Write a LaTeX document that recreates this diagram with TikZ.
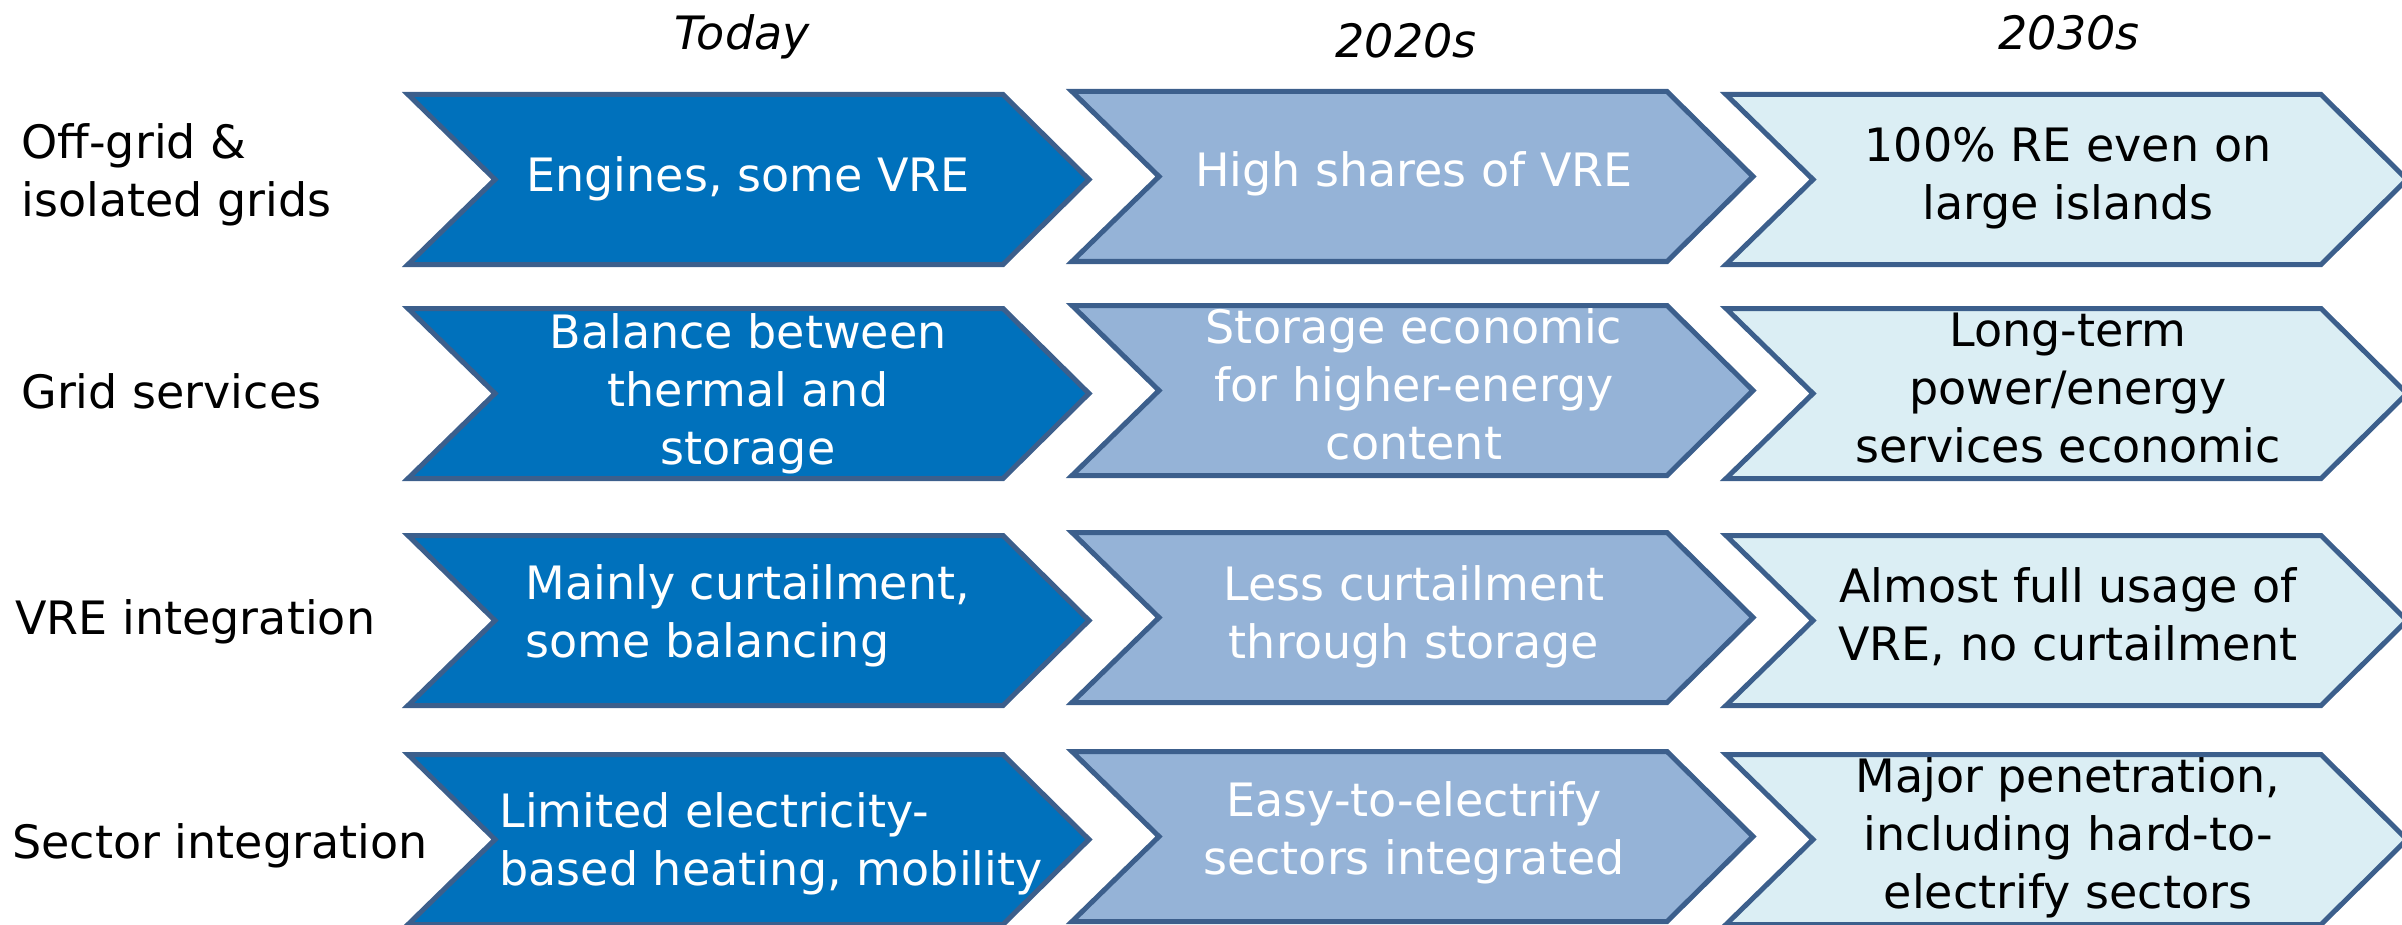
\documentclass[tikz,border=0pt]{standalone}
\usepackage{fontspec}
\setmainfont{DejaVu Sans}
\definecolor{cdark}{RGB}{0,113,188}
\definecolor{cmid}{RGB}{149,179,215}
\definecolor{clight}{RGB}{219,238,244}
\definecolor{cborder}{RGB}{60,95,140}
\newcommand\chev[3]{%
  \filldraw[chevron, fill=#3] (#1+5,#2+2.5) -- (#1+600,#2+2.5) -- (#1+686,#2+87.5)
    -- (#1+600,#2+172.5) -- (#1+5,#2+172.5) -- (#1+92,#2+87.5) -- cycle;}
\tikzset{
  chevron/.style={draw=cborder, line width=2.5pt, line join=miter},
  basefont/.style={font=\fontsize{23}{29}\selectfont},
  wt/.style={text=white, align=center, inner sep=0pt},
  bt/.style={text=black, align=center, inner sep=0pt},
  lw/.style={text=white, align=left, anchor=west, inner sep=0pt},
  lbl/.style={text=black, align=left, anchor=west, inner sep=0pt},
  hdr/.style={font=\fontsize{23}{29}\selectfont\itshape, inner sep=0pt}
}
\begin{document}
\begin{tikzpicture}[x=0.5pt, y=-0.5pt, every node/.style={basefont}]
\useasboundingbox (0,0) rectangle (2402,925);
% chevrons
\foreach \t in {92,306,533,752}{
  \chev{403}{\t}{cdark}
  \chev{1067}{\t-3}{cmid}
  \chev{1721}{\t}{clight}
}
% headers
\node[hdr] (h1) at (742,38) {\strut Today};
\node[hdr] (h2) at (1406,46) {\strut 2020s};
\node[hdr] (h3) at (2069,38) {\strut 2030s};
% row labels
\node[lbl] (r1) at (21,176) {\strut Off-grid \&\\\strut isolated grids};
\node[lbl] (r2) at (21,397) {\strut Grid services};
\node[lbl] (r3) at (15,623) {\strut VRE integration};
\node[lbl] (r4) at (12,847) {\strut Sector integration};
% row 1
\node[wt] (c11) at (748,180) {\strut Engines, some VRE};
\node[wt] (c12) at (1414,175) {\strut High shares of VRE};
\node[bt] (c13) at (2068,179) {\strut 100\% RE even on\\\strut large islands};
% row 2
\node[wt] (c21) at (748,395) {\strut Balance between\\\strut thermal and\\\strut storage};
\node[wt] (c22) at (1414,390) {\strut Storage economic\\\strut for higher-energy\\\strut content};
\node[bt] (c23) at (2068,393) {\strut Long-term\\\strut power/energy\\\strut services economic};
% row 3
\node[lw] (c31) at (525,617) {\strut Mainly curtailment,\\\strut some balancing};
\node[wt] (c32) at (1414,618) {\strut Less curtailment\\\strut through storage};
\node[bt] (c33) at (2068,620) {\strut Almost full usage of\\\strut VRE, no curtailment};
% row 4
\node[lw] (c41) at (499,845) {\strut Limited electricity-\\\strut based heating, mobility};
\node[wt] (c42) at (1414,834) {\strut Easy-to-electrify\\\strut sectors integrated};
\node[bt] (c43) at (2068,839) {\strut Major penetration,\\\strut including hard-to-\\\strut electrify sectors};
\end{tikzpicture}
\end{document}
